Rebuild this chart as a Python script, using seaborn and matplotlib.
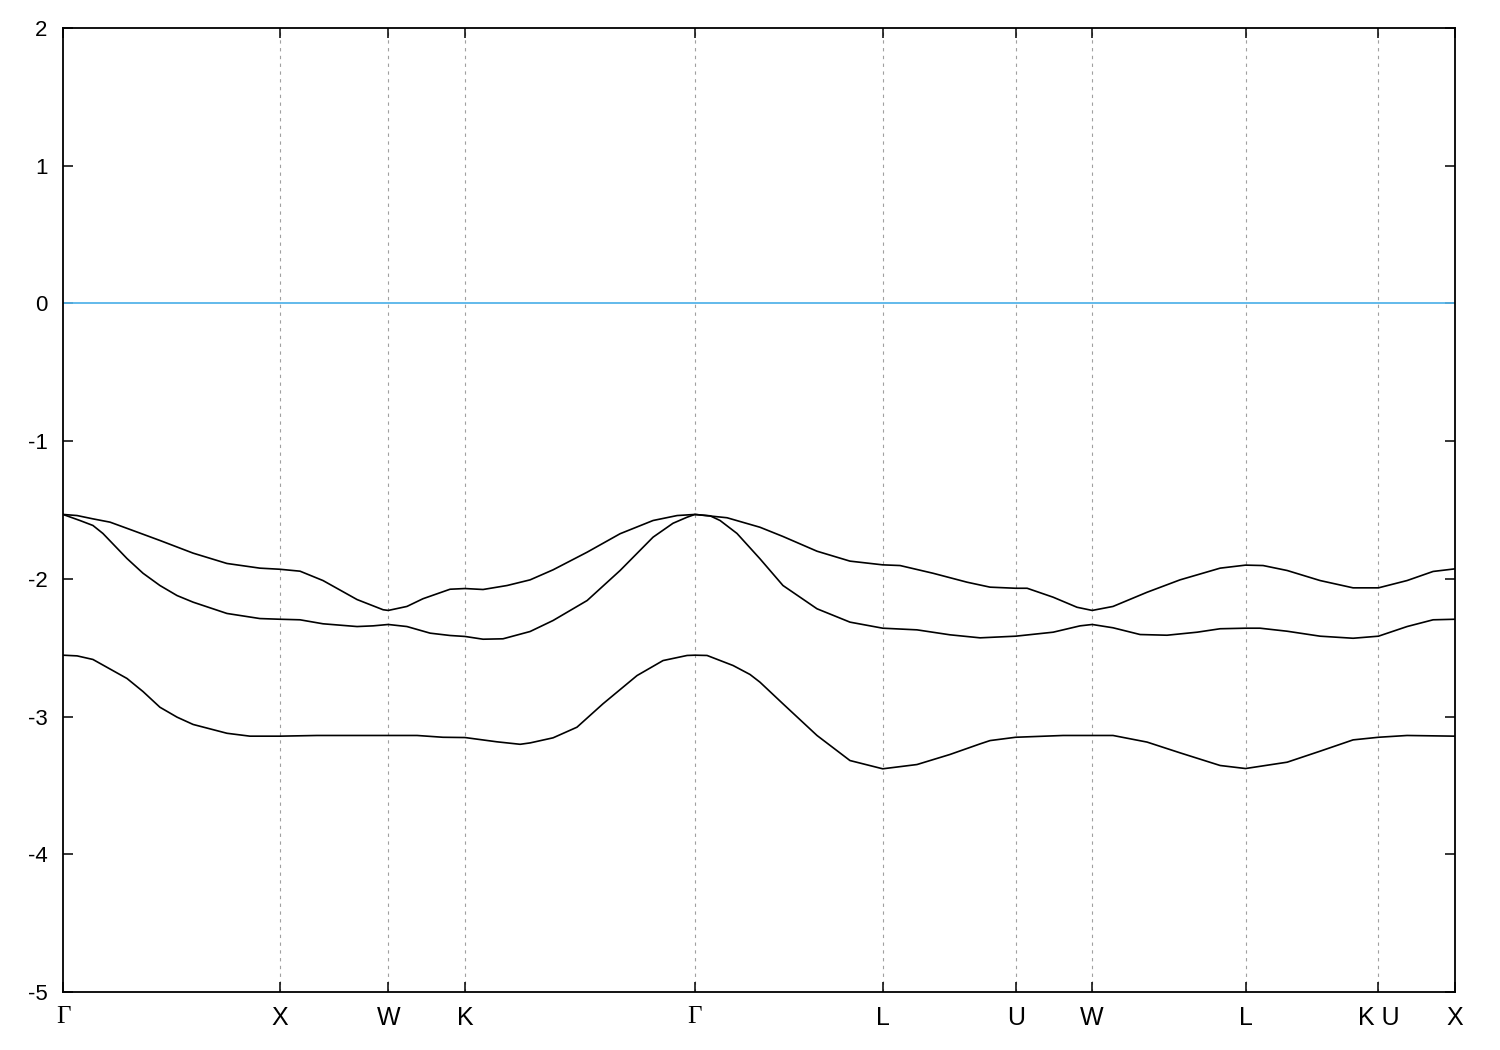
import numpy as np
import matplotlib
matplotlib.use('Agg')
import matplotlib.pyplot as plt
import seaborn as sns
import pandas as pd

# high symmetry points along the fcc path (k in units of 2pi/a)
kpt_pos = [0.0, 1.0, 1.5, 1.854, 2.914, 3.780, 4.393, 4.746, 5.453, 6.066, 6.419]
kpt_lab = ['Γ', 'X', 'W', 'K', 'Γ', 'L', 'U', 'W', 'L', 'K U', 'X']

# band 1 (top)
k_top = [0, 0.065, 0.138, 0.217, 0.323, 0.447, 0.600, 0.756, 0.908, 1.000, 1.093, 1.199,
         1.356, 1.476, 1.500, 1.586, 1.660, 1.785, 1.854, 1.937, 2.048, 2.154, 2.260, 2.417,
         2.569, 2.721, 2.832, 2.914, 3.062, 3.214, 3.320, 3.477, 3.629, 3.780, 3.860, 4.012,
         4.169, 4.275, 4.393, 4.446, 4.566, 4.676, 4.746, 4.842, 4.999, 5.151, 5.336, 5.453,
         5.534, 5.645, 5.797, 5.949, 6.066, 6.198, 6.318, 6.419]
e_top = [-1.532, -1.540, -1.564, -1.588, -1.649, -1.721, -1.813, -1.888, -1.922, -1.930,
         -1.944, -2.012, -2.150, -2.224, -2.229, -2.200, -2.144, -2.075, -2.070, -2.077,
         -2.048, -2.007, -1.934, -1.806, -1.672, -1.576, -1.540, -1.532, -1.556, -1.625,
         -1.692, -1.799, -1.871, -1.898, -1.903, -1.959, -2.024, -2.060, -2.068, -2.068,
         -2.133, -2.206, -2.229, -2.200, -2.097, -2.007, -1.922, -1.900, -1.903, -1.939,
         -2.012, -2.065, -2.065, -2.012, -1.946, -1.927]

# band 2 (middle)
k_mid = [0, 0.078, 0.138, 0.184, 0.295, 0.369, 0.447, 0.526, 0.600, 0.756, 0.908, 1.000,
         1.093, 1.199, 1.356, 1.430, 1.500, 1.586, 1.693, 1.785, 1.854, 1.937, 2.029, 2.154,
         2.260, 2.417, 2.569, 2.721, 2.813, 2.878, 2.914, 2.984, 3.030, 3.108, 3.214, 3.320,
         3.477, 3.629, 3.780, 3.938, 4.090, 4.229, 4.393, 4.566, 4.690, 4.746, 4.842, 4.967,
         5.091, 5.230, 5.336, 5.453, 5.520, 5.645, 5.797, 5.949, 6.066, 6.198, 6.318, 6.419]
e_mid = [-1.532, -1.576, -1.612, -1.670, -1.852, -1.959, -2.048, -2.121, -2.169, -2.251,
         -2.288, -2.293, -2.297, -2.326, -2.346, -2.341, -2.331, -2.346, -2.394, -2.411,
         -2.418, -2.438, -2.435, -2.382, -2.302, -2.157, -1.939, -1.697, -1.596, -1.552,
         -1.532, -1.542, -1.576, -1.670, -1.854, -2.048, -2.217, -2.314, -2.358, -2.370,
         -2.406, -2.428, -2.416, -2.387, -2.341, -2.331, -2.355, -2.404, -2.409, -2.387,
         -2.362, -2.358, -2.358, -2.380, -2.416, -2.431, -2.416, -2.346, -2.297, -2.293]

# band 3 (bottom)
k_low = [0, 0.065, 0.138, 0.295, 0.369, 0.447, 0.526, 0.600, 0.756, 0.862, 1.000, 1.171,
         1.500, 1.633, 1.752, 1.854, 2.001, 2.108, 2.154, 2.260, 2.370, 2.490, 2.647, 2.767,
         2.878, 2.914, 2.970, 3.090, 3.168, 3.214, 3.320, 3.477, 3.629, 3.780, 3.938, 4.090,
         4.229, 4.275, 4.393, 4.612, 4.746, 4.842, 4.999, 5.151, 5.336, 5.453, 5.645, 5.797,
         5.949, 6.066, 6.198, 6.419]
e_low = [-2.554, -2.559, -2.585, -2.723, -2.818, -2.932, -3.004, -3.057, -3.121, -3.142,
         -3.142, -3.137, -3.137, -3.137, -3.150, -3.152, -3.183, -3.201, -3.191, -3.154,
         -3.077, -2.907, -2.702, -2.593, -2.556, -2.554, -2.556, -2.629, -2.694, -2.750,
         -2.907, -3.137, -3.319, -3.379, -3.348, -3.275, -3.198, -3.174, -3.150, -3.137,
         -3.137, -3.137, -3.185, -3.263, -3.355, -3.377, -3.331, -3.251, -3.169, -3.150,
         -3.137, -3.142]

e_fermi = 0.0

df = pd.concat([
    pd.DataFrame({'k': k_top, 'E': e_top, 'band': 1}),
    pd.DataFrame({'k': k_mid, 'E': e_mid, 'band': 2}),
    pd.DataFrame({'k': k_low, 'E': e_low, 'band': 3}),
])

sns.set_style('ticks')
plt.rcParams['font.family'] = ['Liberation Sans', 'DejaVu Sans']

fig, ax = plt.subplots(figsize=(15, 10.5), dpi=100)
fig.subplots_adjust(left=0.042, right=0.970, bottom=0.0552, top=0.9733)

# dashed lines at the inner symmetry points
for kp in kpt_pos[1:-1]:
    ax.axvline(kp, color='#a0a0a0', lw=0.8, ls=(0, (3, 4)), zorder=0)

ax.axhline(e_fermi, color='#56b4e9', lw=1.3, zorder=1)

sns.lineplot(data=df, x='k', y='E', units='band', estimator=None, color='black',
             lw=1.2, ax=ax, legend=False, sort=False)

ax.set_xlim(kpt_pos[0], kpt_pos[-1])
ax.set_ylim(-5, 2)
ax.set_yticks(range(-5, 3))
ax.set_yticklabels([str(v) for v in range(-5, 3)])
ax.set_xticks(kpt_pos)
ax.set_xticklabels(kpt_lab)
for lab in ax.get_xticklabels():
    if lab.get_text() == 'Γ':
        lab.set_family(['Liberation Serif', 'DejaVu Serif'])
ax.set_xlabel('')
ax.set_ylabel('')

ax.tick_params(axis='both', direction='in', length=7, width=1.1,
               top=True, right=True, colors='black')
ax.tick_params(axis='y', pad=11, labelsize=16)
ax.tick_params(axis='x', pad=10, labelsize=18)
for s in ax.spines.values():
    s.set_visible(True)
    s.set_linewidth(1.3)
    s.set_color('black')

plt.savefig('out.png', dpi=100)
